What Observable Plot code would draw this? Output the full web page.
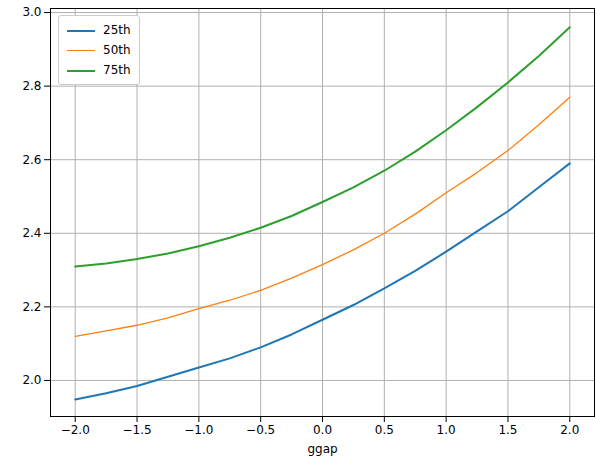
<!DOCTYPE html>
<html><head><meta charset="utf-8">
<script src="https://cdn.jsdelivr.net/npm/d3@7"></script>
<script src="https://cdn.jsdelivr.net/npm/@observablehq/plot@0.6"></script>
<style>body{margin:0;background:#fff;font-family:"DejaVu Sans",sans-serif}#wrap{position:relative;width:596px;height:466px}
#leg{position:absolute;left:58px;top:15px;background:#fff;border:1px solid #ccc;border-radius:3px;padding:4px 8px;font-size:12px;line-height:20px}
#leg span{display:inline-block;width:28px;height:0;vertical-align:middle;margin-right:8px}</style>
</head><body><div id="wrap"><div id="leg"></div></div>
<script>
const xs=[-2,-1.75,-1.5,-1.25,-1,-0.75,-0.5,-0.25,0,0.25,0.5,0.75,1,1.25,1.5,1.75,2];
const p25=[1.948,1.965,1.985,2.01,2.035,2.06,2.09,2.125,2.165,2.205,2.25,2.298,2.35,2.405,2.46,2.525,2.59];
const p50=[2.12,2.135,2.15,2.17,2.195,2.218,2.245,2.278,2.315,2.355,2.40,2.452,2.51,2.565,2.625,2.695,2.77];
const p75=[2.31,2.318,2.33,2.345,2.365,2.388,2.415,2.447,2.485,2.525,2.57,2.622,2.68,2.743,2.81,2.882,2.96];
const series=[["25th",p25,"#1f77b4",2],["50th",p50,"#ff7f0e",1.3],["75th",p75,"#2ca02c",2]];
const data=series.flatMap(([k,v])=>v.map((y,i)=>({k,x:xs[i],y})));
const xt=[-2,-1.5,-1,-0.5,0,0.5,1,1.5,2], yt=[2.0,2.2,2.4,2.6,2.8,3.0];
const chart=Plot.plot({width:596,height:466,marginLeft:50,marginRight:2,marginTop:8,marginBottom:50,
 style:{fontSize:"12px",fontFamily:"DejaVu Sans"},
 x:{domain:[-2.2,2.2],ticks:xt,tickFormat:d=>d.toFixed(1).replace("-","−"),label:"ggap",labelAnchor:"center",labelArrow:"none",labelOffset:40},
 y:{domain:[1.902,3.011],ticks:yt,tickFormat:d=>d.toFixed(1),label:null},
 marks:[Plot.gridX(xt,{stroke:"#b0b0b0",strokeOpacity:1}),Plot.gridY(yt,{stroke:"#b0b0b0",strokeOpacity:1}),
  Plot.frame({stroke:"#000"}),
  ...series.map(([k,v,c,w])=>Plot.line(data.filter(d=>d.k===k),{x:"x",y:"y",stroke:c,strokeWidth:w})),
  Plot.axisX({ticks:xt,tickFormat:d=>d.toFixed(1).replace("-","−"),label:"ggap",labelAnchor:"center",labelArrow:"none",labelOffset:36}),
  Plot.axisY({ticks:yt,tickFormat:d=>d.toFixed(1),label:null})]});
document.getElementById("wrap").prepend(chart);
document.getElementById("leg").innerHTML=series.map(([k,v,c,w])=>`<div><span style="border-top:${w}px solid ${c}"></span>${k}</div>`).join("");
</script></body></html>
